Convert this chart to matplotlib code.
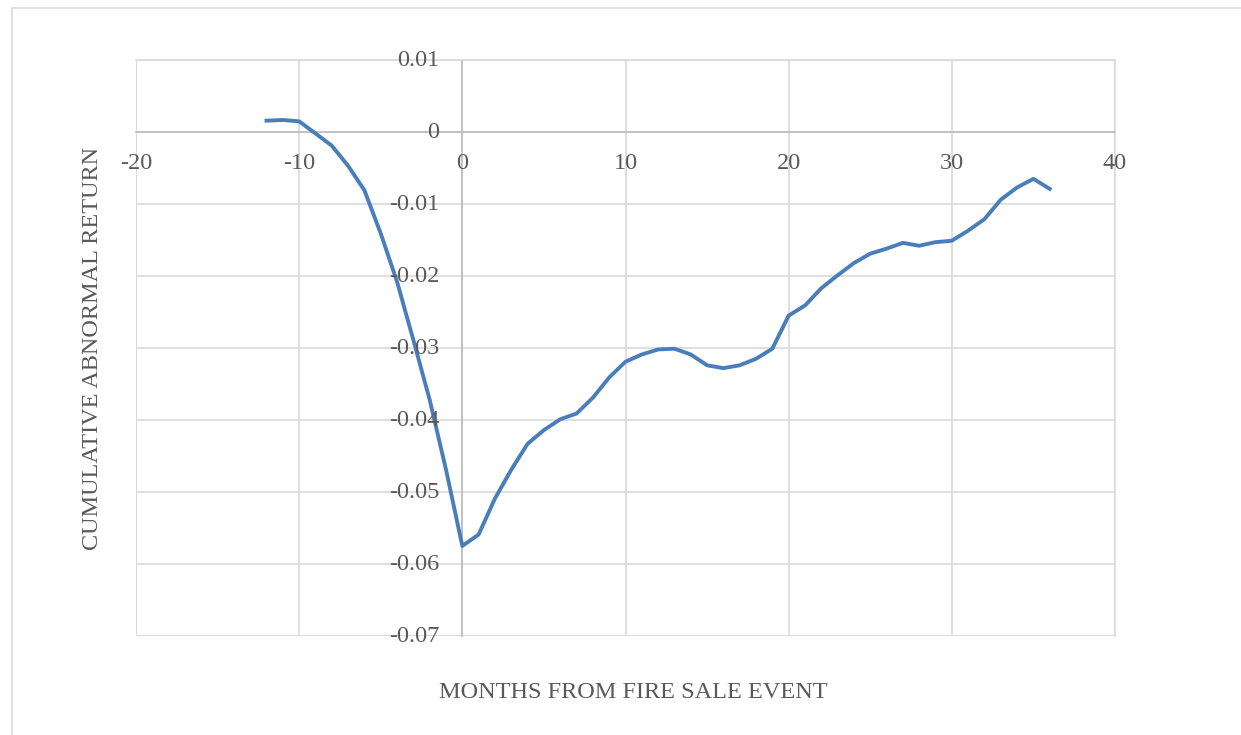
import matplotlib
matplotlib.use("Agg")
import matplotlib.pyplot as plt
from matplotlib.lines import Line2D

months = list(range(-12, 37))
car = [0.00157, 0.00167, 0.00148, -0.0002, -0.0019, -0.0047, -0.0081, -0.0141,
       -0.0208, -0.0289, -0.0372, -0.0469, -0.0575, -0.0559, -0.0509, -0.0469,
       -0.0433, -0.0414, -0.0399, -0.0391, -0.0369, -0.0341, -0.0319, -0.0309,
       -0.0302, -0.0301, -0.0309, -0.0324, -0.0328, -0.0324, -0.0315, -0.0301,
       -0.0255, -0.0241, -0.0217, -0.0199, -0.0182, -0.0169, -0.0162, -0.0154,
       -0.0158, -0.0153, -0.0151, -0.0137, -0.0121, -0.0094, -0.0077, -0.0065,
       -0.0079]
xticks = [-20, -10, 0, 10, 20, 30, 40]
xticklabels = ["-20", "-10", "0", "10", "20", "30", "40"]
yticks = [0.01, 0, -0.01, -0.02, -0.03, -0.04, -0.05, -0.06, -0.07]
yticklabels = ["0.01", "0", "-0.01", "-0.02", "-0.03", "-0.04", "-0.05", "-0.06", "-0.07"]

plt.rcParams['font.family'] = ['Liberation Serif', 'DejaVu Serif']
W, H = 1241, 735
fig = plt.figure(figsize=(W / 100, H / 100), dpi=100)
fig.patch.set_facecolor('white')

# outer chart border (left + top visible)
fig.add_artist(Line2D([12 / W, 12 / W], [0, 1 - 8 / H], transform=fig.transFigure,
                      color='#d9d9d9', lw=1.2))
fig.add_artist(Line2D([12 / W, 1240 / W], [1 - 8 / H, 1 - 8 / H], transform=fig.transFigure,
                      color='#d9d9d9', lw=1.2))

left, right, top, bottom = 136, 1115, 60, 636
ax = fig.add_axes([left / W, 1 - bottom / H, (right - left) / W, (bottom - top) / H])
ax.set_xlim(-20, 40)
ax.set_ylim(-0.07, 0.01)

ax.set_xticks(xticks)
ax.set_yticks(yticks)
ax.grid(True, color='#d9d9d9', lw=1.2)
ax.set_axisbelow(True)
ax.tick_params(length=0)
ax.set_xticklabels([])
ax.set_yticklabels([])

for s in ['top', 'right']:
    ax.spines[s].set_color('#d9d9d9')
    ax.spines[s].set_linewidth(1.2)
ax.spines['left'].set_position(('data', 0))
ax.spines['bottom'].set_position(('data', 0))
ax.spines['left'].set_color('#bfbfbf')
ax.spines['bottom'].set_color('#bfbfbf')
ax.spines['left'].set_linewidth(1.3)
ax.spines['bottom'].set_linewidth(1.3)
ax.axvline(-20, color='#d9d9d9', lw=1.2, zorder=0)
ax.axhline(-0.07, color='#d9d9d9', lw=1.2, zorder=0)

ax.plot(months, car, color='#4a7ebb', lw=2.8, solid_joinstyle='round', zorder=3)

tc = '#595959'
fs = 17.5
for v, lab in zip(xticks, xticklabels):
    ax.annotate(lab, xy=(v, 0), xycoords='data', xytext=(0, -31), textcoords='offset pixels',
                ha='center', va='center', fontsize=fs, color=tc)
for v, lab in zip(yticks, yticklabels):
    ax.annotate(lab, xy=(0, v), xycoords='data', xytext=(-23, 0), textcoords='offset pixels',
                ha='right', va='center', fontsize=fs, color=tc)

fig.text(633 / W, 1 - 693 / H, 'MONTHS FROM FIRE SALE EVENT', ha='center', va='center',
         fontsize=fs, color=tc)
fig.text(93 / W, 1 - 348 / H, 'CUMULATIVE ABNORMAL RETURN', ha='center', va='center',
         rotation=90, fontsize=fs, color=tc)

fig.savefig('out.png', dpi=100, facecolor='white')
